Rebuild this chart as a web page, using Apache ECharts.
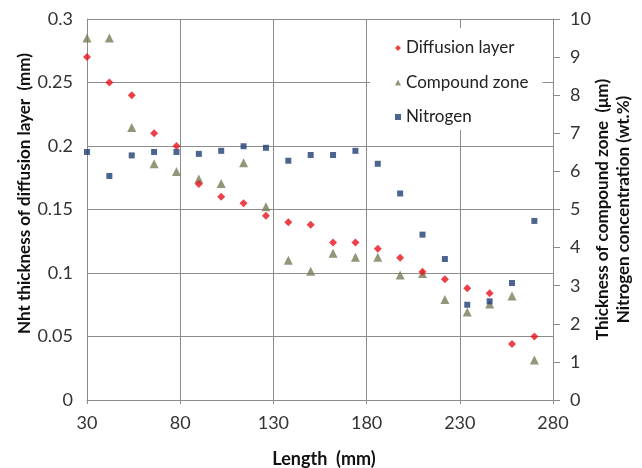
<!DOCTYPE html>
<html>
<head>
<meta charset="utf-8">
<script src="https://cdn.jsdelivr.net/npm/echarts@6/dist/echarts.min.js"></script>
<style>
  html, body { margin: 0; padding: 0; background: #fff; }
  #chart { width: 642px; height: 468px; }
</style>
</head>
<body>
<div id="chart"></div>
<script>
// Length positions (mm)
const lengths = [30, 42, 54, 66, 78, 90, 102, 114, 126, 138, 150, 162, 174, 186, 198, 210, 222, 234, 246, 258, 270];

// diffusion layer thickness (mm), left axis
const diffusionLayer = [0.270, 0.250, 0.240, 0.210, 0.200, 0.170, 0.160, 0.155, 0.145, 0.140, 0.138,
  0.124, 0.124, 0.119, 0.112, 0.101, 0.095, 0.088, 0.084, 0.044, 0.050];

// compound zone thickness (µm), right axis
const compoundZone = [9.5, 9.5, 7.15, 6.2, 6.0, 5.8, 5.68, 6.23, 5.07, 3.67, 3.38,
  3.85, 3.75, 3.75, 3.28, 3.32, 2.64, 2.31, 2.52, 2.73, 1.05];

// nitrogen concentration (wt.%), right axis
const nitrogen = [6.51, 5.88, 6.42, 6.51, 6.51, 6.46, 6.54, 6.66, 6.62, 6.28, 6.43,
  6.43, 6.54, 6.2, 5.42, 4.34, 3.7, 2.5, 2.59, 3.07, 4.7];

const pairs = (ys) => lengths.map((x, i) => [x, ys[i]]);

const chart = echarts.init(document.getElementById('chart'));

const axisGray = '#8c8c8c';
const gridLine = { lineStyle: { color: axisGray, width: 1 } };
const labelStyle = { color: '#333', fontFamily: 'Lato', fontSize: 18 };
const nameStyle = { color: '#111', fontFamily: 'Lato', fontWeight: 'bold' };

chart.setOption({
  animation: false,
  backgroundColor: '#fff',
  grid: { left: 87, right: 89, top: 19, bottom: 68, outerBoundsMode: 'none' },
  legend: {
    orient: 'vertical',
    left: 370,
    top: 28,
    padding: [10, 14, 3, 25],
    backgroundColor: '#fff',
    itemGap: 14.5,
    itemWidth: 6,
    itemHeight: 6,
    textStyle: { fontFamily: 'Lato', fontSize: 17, color: '#222', lineHeight: 20 },
    data: ['Diffusion layer', 'Compound zone', 'Nitrogen']
  },
  xAxis: {
    type: 'value',
    min: 30,
    max: 280,
    interval: 50,
    name: 'Length  (mm)',
    nameLocation: 'middle',
    nameGap: 50,
    nameMoveOverlap: false,
    nameTextStyle: Object.assign({ fontSize: 18, padding: [0, 0, 0, 8] }, nameStyle),
    axisLine: { lineStyle: { color: axisGray } },
    axisTick: { show: true, length: 4, lineStyle: { color: axisGray } },
    axisLabel: Object.assign({ margin: 14 }, labelStyle),
    splitLine: gridLine
  },
  yAxis: [
    {
      type: 'value',
      min: 0,
      max: 0.3,
      interval: 0.05,
      name: 'Nht thickness of diffusion layer  (mm)',
      nameLocation: 'middle',
      nameGap: 54,
      nameMoveOverlap: false,
      nameTextStyle: Object.assign({ fontSize: 17, padding: [0, 0, 0, 32] }, nameStyle),
      axisLine: { show: true, lineStyle: { color: axisGray } },
      axisTick: { show: true, inside: true, length: 3, lineStyle: { color: axisGray } },
      axisLabel: Object.assign({ margin: 14, formatter: (v) => String(+v.toFixed(2)) }, labelStyle),
      splitLine: gridLine
    },
    {
      type: 'value',
      min: 0,
      max: 10,
      interval: 1,
      position: 'right',
      name: 'Thickness of compound zone  (μm)\nNitrogen concentration (wt.%)',
      nameLocation: 'middle',
      nameRotate: 90,
      nameGap: 39,
      nameMoveOverlap: false,
      nameTextStyle: Object.assign({ fontSize: 17, lineHeight: 21 }, nameStyle),
      axisLine: { show: true, lineStyle: { color: axisGray } },
      axisTick: { show: true, length: 7, lineStyle: { color: axisGray } },
      axisLabel: Object.assign({ margin: 17 }, labelStyle),
      splitLine: { show: false }
    }
  ],
  series: [
    {
      name: 'Diffusion layer',
      type: 'scatter',
      yAxisIndex: 0,
      symbol: 'diamond',
      symbolSize: 8,
      itemStyle: { color: '#e8111b' },
      data: pairs(diffusionLayer),
      z: 3
    },
    {
      name: 'Compound zone',
      type: 'scatter',
      yAxisIndex: 1,
      symbol: 'triangle',
      symbolSize: 9,
      itemStyle: { color: '#7b7a57' },
      data: pairs(compoundZone),
      z: 2
    },
    {
      name: 'Nitrogen',
      type: 'scatter',
      yAxisIndex: 1,
      symbol: 'rect',
      symbolSize: 6,
      itemStyle: { color: '#1f3f73' },
      data: pairs(nitrogen),
      z: 2
    }
  ]
});
</script>
</body>
</html>
